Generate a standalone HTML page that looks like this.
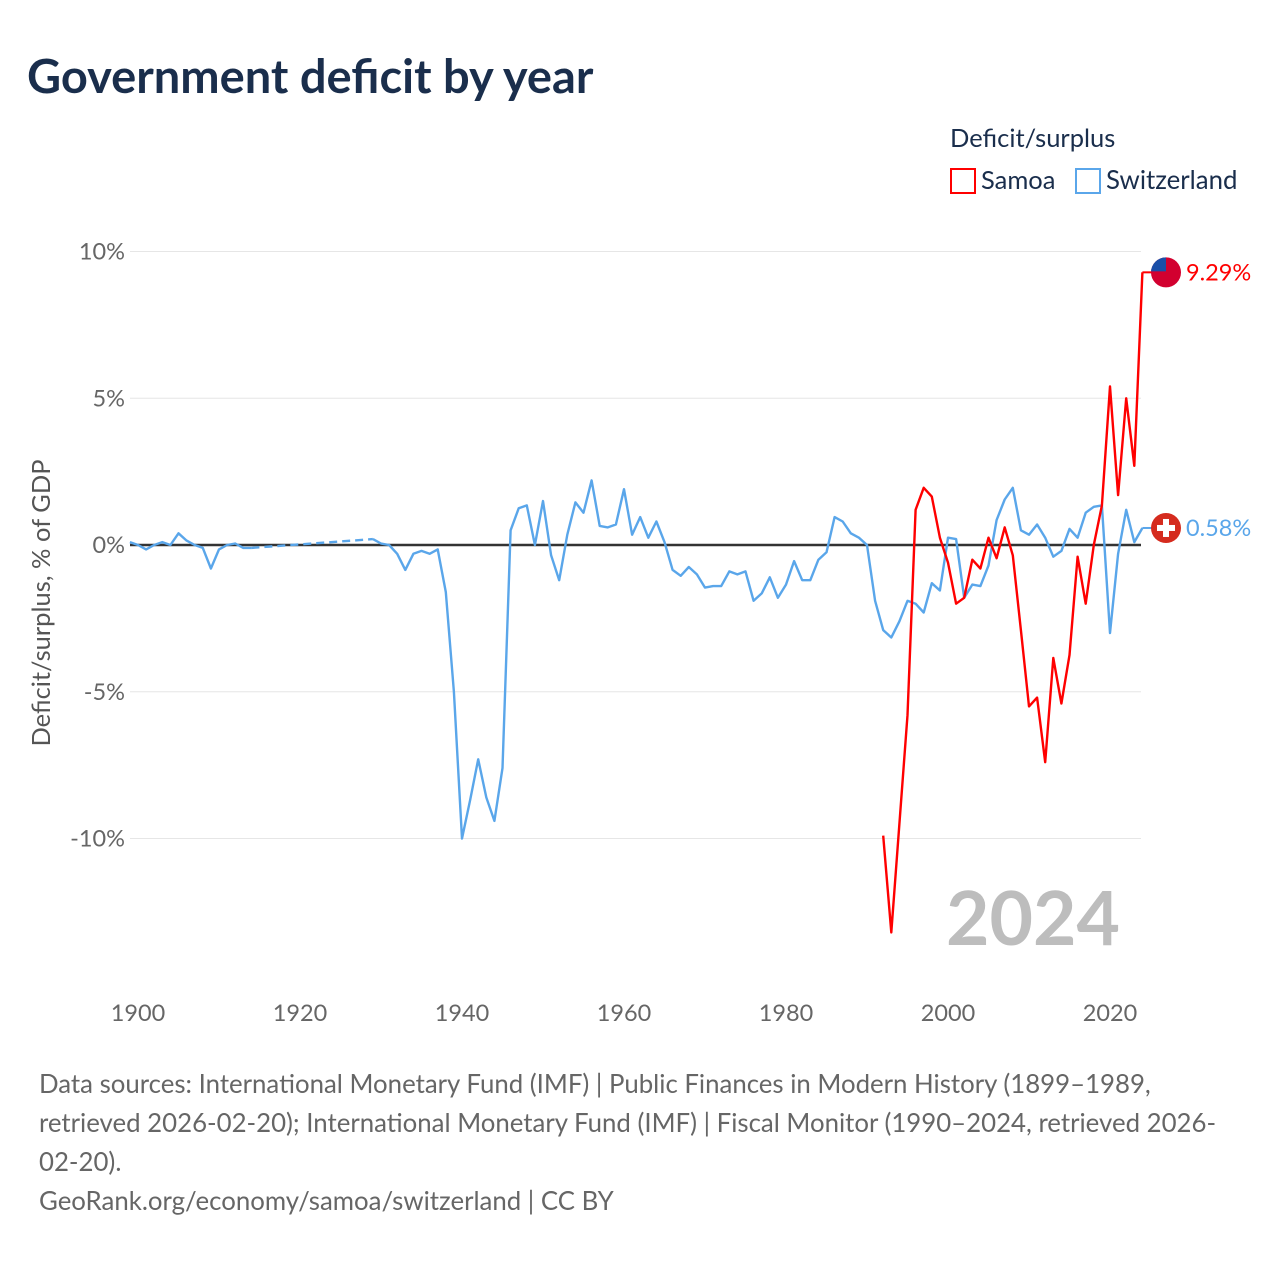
<!DOCTYPE html>
<html><head><meta charset="utf-8"><style>
body{margin:0;background:#fff;width:1280px;height:1280px;overflow:hidden;font-family:"Liberation Sans",sans-serif}
</style></head><body>
<svg id="chart" width="1280" height="1280" xmlns="http://www.w3.org/2000/svg" font-family="Lato, 'Liberation Sans', sans-serif">
<text x="27" y="93" font-size="47" font-weight="bold" fill="#1a2e4c">Government deficit by year</text>
<text x="950" y="147" font-size="25.5" fill="#1a2e4c">Deficit/surplus</text>
<g><rect x="951" y="169" width="24" height="24" fill="none" stroke="#ff0000" stroke-width="2"/><text x="981" y="189" font-size="25.5" fill="#1a2e4c">Samoa</text></g>
<g><rect x="1076" y="169" width="24" height="24" fill="none" stroke="#5aa6ea" stroke-width="2"/><text x="1106" y="189" font-size="25.8" fill="#1a2e4c">Switzerland</text></g>
<g id="grid"></g><g id="axes"></g><g id="series"></g>
<text transform="translate(50,603) rotate(-90)" text-anchor="middle" font-size="25.5" fill="#555">Deficit/surplus, % of GDP</text>
<text x="1120" y="945" text-anchor="end" font-size="75" font-weight="bold" fill="#bdbdbd">2024</text>
<g font-size="25.8" fill="#666">
<text x="39" y="1093">Data sources: International Monetary Fund (IMF) | Public Finances in Modern History (1899–1989,</text>
<text x="39" y="1132">retrieved 2026-02-20); International Monetary Fund (IMF) | Fiscal Monitor (1990–2024, retrieved 2026-</text>
<text x="39" y="1171">02-20).</text>
<text x="39" y="1210">GeoRank.org/economy/samoa/switzerland | CC BY</text>
</g>
</svg>
<script>
const yTicks=[10,5,0,-5,-10];
const yTickLabels=["10%","5%","0%","-5%","-10%"];
const xTicks=[1900,1920,1940,1960,1980,2000,2020];
const swissYears=[1899,1900,1901,1902,1903,1904,1905,1906,1907,1908,1909,1910,1911,1912,1913,1914,1929,1930,1931,1932,1933,1934,1935,1936,1937,1938,1939,1940,1941,1942,1943,1944,1945,1946,1947,1948,1949,1950,1951,1952,1953,1954,1955,1956,1957,1958,1959,1960,1961,1962,1963,1964,1965,1966,1967,1968,1969,1970,1971,1972,1973,1974,1975,1976,1977,1978,1979,1980,1981,1982,1983,1984,1985,1986,1987,1988,1989,1990,1991,1992,1993,1994,1995,1996,1997,1998,1999,2000,2001,2002,2003,2004,2005,2006,2007,2008,2009,2010,2011,2012,2013,2014,2015,2016,2017,2018,2019,2020,2021,2022,2023,2024];
const swissValues=[0.1,0,-0.15,0,0.1,0,0.4,0.15,0,-0.1,-0.8,-0.15,0,0.05,-0.1,-0.1,0.2,0.05,0,-0.3,-0.85,-0.3,-0.2,-0.3,-0.15,-1.6,-5,-10,-8.7,-7.3,-8.6,-9.4,-7.6,0.5,1.25,1.35,0,1.5,-0.35,-1.2,0.35,1.45,1.1,2.2,0.65,0.6,0.7,1.9,0.35,0.95,0.25,0.8,0.1,-0.85,-1.05,-0.75,-1.0,-1.45,-1.4,-1.4,-0.9,-1.0,-0.9,-1.9,-1.65,-1.1,-1.8,-1.35,-0.55,-1.2,-1.2,-0.5,-0.25,0.95,0.8,0.4,0.25,0,-1.9,-2.9,-3.15,-2.6,-1.9,-2.0,-2.3,-1.3,-1.55,0.25,0.2,-1.8,-1.35,-1.4,-0.7,0.85,1.55,1.95,0.5,0.35,0.7,0.25,-0.4,-0.2,0.55,0.25,1.1,1.3,1.35,-3.0,-0.3,1.2,0.1,0.58];
const samoaYears=[1992,1993,1994,1995,1996,1997,1998,1999,2000,2001,2002,2003,2004,2005,2006,2007,2008,2009,2010,2011,2012,2013,2014,2015,2016,2017,2018,2019,2020,2021,2022,2023,2024];
const samoaValues=[-9.9,-13.2,-9.5,-5.8,1.2,1.95,1.65,0.25,-0.6,-2.0,-1.8,-0.5,-0.8,0.25,-0.45,0.6,-0.35,-2.9,-5.5,-5.2,-7.4,-3.85,-5.4,-3.75,-0.4,-2.0,0,1.35,5.4,1.7,5.0,2.7,9.29];
const NS="http://www.w3.org/2000/svg";
const X=y=>138+(y-1900)*8.1, Y=v=>545-v*29.35;
function mk(t,a,p){const e=document.createElementNS(NS,t);for(const k in a)e.setAttribute(k,a[k]);p.appendChild(e);return e;}
const grid=document.getElementById('grid'),axes=document.getElementById('axes'),ser=document.getElementById('series');
yTicks.forEach((v,i)=>{
 const l=mk('line',{x1:130,x2:1141,y1:Y(v),y2:Y(v),stroke:v===0?'#333':'#e6e6e6','stroke-width':v===0?2.5:1},v===0?axes:grid);
 
 
 const t=mk('text',{x:125,y:Y(v)+8,'text-anchor':'end','font-size':23.5,fill:'#666'},axes);
 t.textContent=yTickLabels[i];
 
 
});
xTicks.forEach(y=>{
 const t=mk('text',{x:X(y),y:1021,'text-anchor':'middle','font-size':23.5,fill:'#666'},axes);
 t.textContent=y;
 
 
});
function draw(ys,vs,col,name){
 let d='',dd='';
 for(let i=0;i<ys.length;i++){
  const p=X(ys[i]).toFixed(1)+','+Y(vs[i]).toFixed(1);
  if(i>0&&ys[i]-ys[i-1]>1){dd+='M'+X(ys[i-1]).toFixed(1)+','+Y(vs[i-1]).toFixed(1)+'L'+p;d+='M'+p;}
  else d+=(i?'L':'M')+p;
 }
 const l=mk('path',{d:d,fill:'none',stroke:col,'stroke-width':2.4,'stroke-linejoin':'round'},ser);
 
 
 if(dd){const g=mk('path',{d:dd,fill:'none',stroke:col,'stroke-width':2.4,'stroke-dasharray':'8,5'},ser);
 
 }
 const ly=Y(vs[vs.length-1]),lx=X(ys[ys.length-1]);
 const c=mk('line',{x1:lx,x2:1152,y1:ly,y2:ly,stroke:col,'stroke-width':2},ser);
 
 
 return ly;
}
const sy=draw(swissYears,swissValues,'#5aa6ea','switzerland');
const my=draw(samoaYears,samoaValues,'#ff0000','samoa');
let f=mk('g',{},ser);
mk('clipPath',{id:'fc'},f);
mk('circle',{cx:1166,cy:my,r:15},document.getElementById('fc'));
mk('circle',{cx:1166,cy:my,r:15,fill:'#d2002f'},f);
mk('rect',{x:1151,y:my-15,width:15,height:14,fill:'#1a4fa8','clip-path':'url(#fc)'},f);
f=mk('g',{},ser);
mk('circle',{cx:1166,cy:sy,r:15,fill:'#d52b1e'},f);
mk('rect',{x:1163,y:sy-9,width:6,height:18,fill:'#fff'},f);
mk('rect',{x:1157,y:sy-3,width:18,height:6,fill:'#fff'},f);
let t=mk('text',{x:1186,y:my+8,'font-size':23.5,fill:'#ff0000'},ser);t.textContent='9.29%';


t=mk('text',{x:1186,y:sy+8,'font-size':23.5,fill:'#5aa6ea'},ser);t.textContent='0.58%';


</script>
</body></html>
